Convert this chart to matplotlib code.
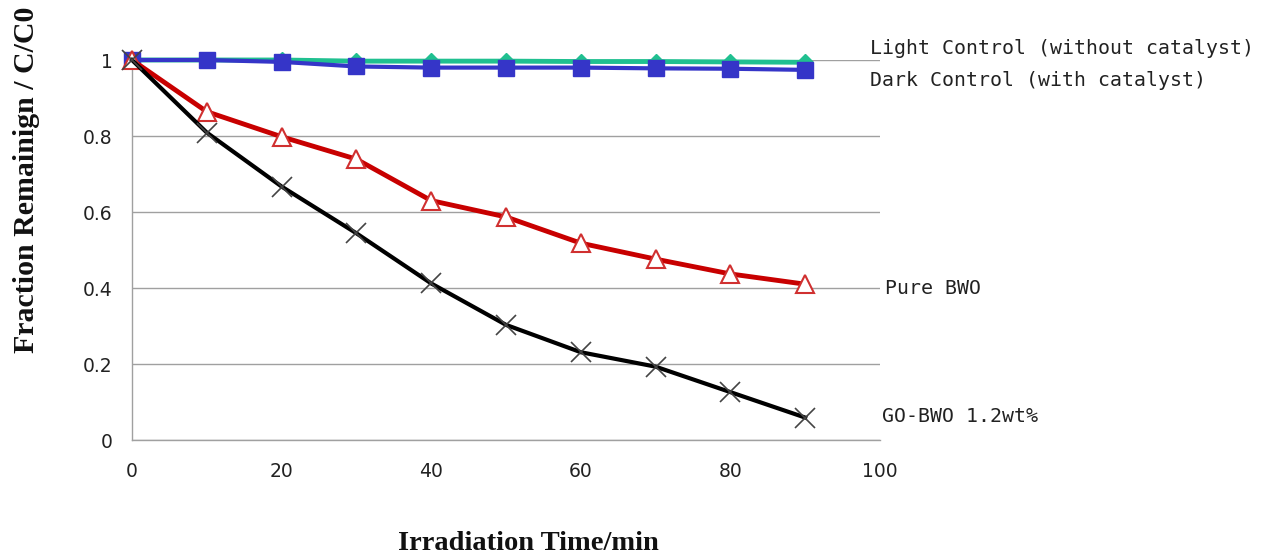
import matplotlib
matplotlib.use("Agg")
import matplotlib.pyplot as plt

time_min = [0, 10, 20, 30, 40, 50, 60, 70, 80, 90]
light_control = [1.0, 1.0, 1.0, 0.997, 0.997, 0.997, 0.996, 0.996, 0.995, 0.994]
dark_control = [1.0, 1.0, 0.995, 0.983, 0.98, 0.98, 0.98, 0.978, 0.977, 0.974]
pure_bwo = [1.0, 0.864, 0.798, 0.739, 0.630, 0.587, 0.518, 0.476, 0.437, 0.410]
go_bwo = [1.0, 0.809, 0.667, 0.544, 0.412, 0.303, 0.231, 0.193, 0.126, 0.059]

series_labels = ["Light Control (without catalyst)", "Dark Control (with catalyst)",
                 "Pure BWO", "GO-BWO 1.2wt%"]
x_ticks = [0, 20, 40, 60, 80, 100]
y_ticks = [0, 0.2, 0.4, 0.6, 0.8, 1]
y_tick_labels = ["0", "0.2", "0.4", "0.6", "0.8", "1"]

fig = plt.figure(figsize=(12.64, 5.57), dpi=100)
ax = fig.add_axes([132/1264, 1-440/557, (880-132)/1264, 380/557])

ax.plot(time_min, light_control, color="#20c090", lw=3.5, marker="D", ms=8,
        mfc="#20c090", mec="#20c090", clip_on=False, zorder=3)
ax.plot(time_min, dark_control, color="#3535c8", lw=3, marker="s", ms=11,
        mfc="#3535c8", mec="#3535c8", clip_on=False, zorder=4)
ax.plot(time_min, pure_bwo, color="#c80000", lw=3.5, marker="^", ms=13,
        mfc="white", mec="#d03030", mew=1.5, clip_on=False, zorder=5)
ax.plot(time_min, go_bwo, color="black", lw=3, zorder=6, clip_on=False)
ax.plot(time_min, go_bwo, lw=0, marker="x", ms=14, mec="#444444", mew=1.2,
        zorder=7, clip_on=False)

ax.set_xlim(0, 100)
ax.set_ylim(0, 1)
ax.set_xticks(x_ticks)
ax.set_yticks(y_ticks)
ax.set_yticklabels(y_tick_labels)
ax.tick_params(axis="both", length=0, labelsize=13.5, colors="#222222")
ax.tick_params(axis="x", pad=16)
ax.tick_params(axis="y", pad=14)
for t in ax.get_xticklabels() + ax.get_yticklabels():
    t.set_fontfamily("DejaVu Sans")
ax.grid(axis="y", color="#a0a0a0", lw=1)
ax.set_axisbelow(True)
for s in ["top", "right"]:
    ax.spines[s].set_visible(False)
for s in ["left", "bottom"]:
    ax.spines[s].set_color("#a0a0a0")
    ax.spines[s].set_linewidth(1)

mono = dict(family="DejaVu Sans Mono", fontsize=14.3, color="#222222", va="center")
fig.text(870/1264, 1-49/557, series_labels[0], **mono)
fig.text(870/1264, 1-80/557, series_labels[1], **mono)
fig.text(885/1264, 1-288/557, series_labels[2], **mono)
fig.text(882/1264, 1-416/557, series_labels[3], **mono)

fig.text(27/1264, 1-180/557, "Fraction Remainign / C/C0", rotation=90,
         family="Liberation Serif", weight="bold", fontsize=21.5,
         ha="center", va="center", color="#111111")
fig.text(528/1264, 1-543/557, "Irradiation Time/min",
         family="Liberation Serif", weight="bold", fontsize=20.5,
         ha="center", va="center", color="#111111")

fig.savefig("out.png", dpi=100)
